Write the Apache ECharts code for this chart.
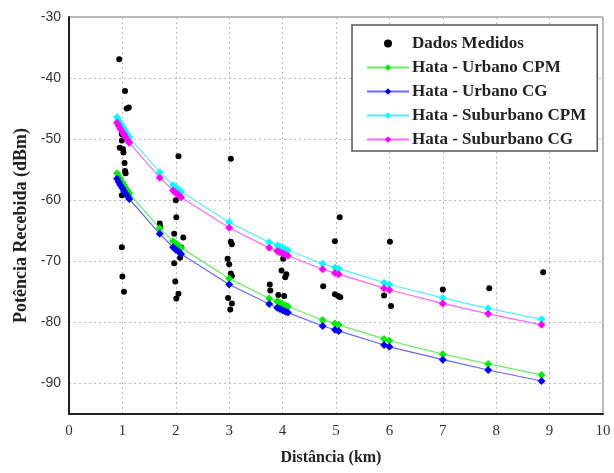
<!DOCTYPE html>
<html><head><meta charset="utf-8">
<script src="https://cdn.jsdelivr.net/npm/echarts@6/dist/echarts.min.js"></script>
<style>html,body{margin:0;padding:0;background:#fff}#c{width:614px;height:473px}</style>
</head><body><div id="c"></div>
<script>
var measuredX = [0.94,1.05,1.08,1.12,0.99,0.99,0.95,1.01,1.02,1.04,1.05,1.06,0.99,1.12,0.99,1.00,1.03,
  1.70,1.71,
  2.05,2.00,2.01,1.97,2.14,2.08,1.97,1.99,2.05,2.01,2.10,
  3.03,3.03,3.05,2.97,3.00,3.03,3.05,2.98,3.05,3.02,
  3.76,3.77,3.92,4.03,4.01,3.98,4.07,4.05,
  5.07,4.98,4.76,4.98,5.04,5.08,
  6.01,5.90,6.03,
  7.00,7.87,8.88];
var measuredY = [-36.9,-42.1,-45.0,-44.8,-49.2,-50.2,-51.4,-51.6,-52.2,-53.9,-55.2,-55.6,-59.2,-59.0,-67.7,-72.5,-75.0,
  -63.8,-64.4,
  -52.8,-60.0,-62.8,-65.5,-66.1,-69.4,-70.3,-73.3,-75.3,-76.1,-67.7,
  -53.2,-66.8,-67.2,-69.6,-70.5,-72.0,-72.4,-76.0,-76.9,-77.9,
  -73.8,-74.8,-75.5,-75.7,-69.6,-71.5,-72.1,-72.6,
  -62.8,-66.7,-74.1,-75.4,-75.7,-75.9,
  -66.8,-75.6,-77.3,
  -74.6,-74.4,-71.8];

var modelX       = [0.90,0.93,0.96,1.00,1.03,1.06,1.10,1.13,1.70,1.95,2.00,2.05,2.10,3.00,3.75,3.90,3.95,4.00,4.05,4.10,4.75,4.98,5.05,5.90,6.00,7.00,7.85,8.85];
var urbanoCPM    = [-55.6,-56.1,-56.5,-57.1,-57.5,-58.0,-58.5,-58.9,-64.6,-66.7,-67.1,-67.4,-67.8,-72.8,-76.1,-76.6,-76.8,-77.0,-77.2,-77.4,-79.6,-80.2,-80.4,-82.7,-83.0,-85.2,-86.8,-88.6];
var urbanoCG     = [-56.5,-57.0,-57.5,-58.0,-58.5,-58.9,-59.4,-59.8,-65.5,-67.7,-68.1,-68.4,-68.8,-73.8,-77.0,-77.6,-77.8,-78.0,-78.2,-78.4,-80.6,-81.2,-81.4,-83.7,-84.0,-86.1,-87.8,-89.6];
var suburbanoCPM = [-46.4,-46.9,-47.4,-47.9,-48.3,-48.8,-49.3,-49.7,-55.4,-57.5,-57.9,-58.2,-58.6,-63.6,-66.9,-67.4,-67.6,-67.8,-68.0,-68.2,-70.4,-71.0,-71.2,-73.5,-73.8,-76.0,-77.7,-79.5];
var suburbanoCG  = [-47.3,-47.8,-48.3,-48.8,-49.2,-49.7,-50.2,-50.6,-56.3,-58.4,-58.8,-59.1,-59.5,-64.5,-67.8,-68.3,-68.5,-68.7,-68.9,-69.1,-71.3,-71.9,-72.1,-74.4,-74.7,-76.9,-78.6,-80.4];

var xTicks = [0,1,2,3,4,5,6,7,8,9,10];
var yTicks = [-90,-80,-70,-60,-50,-40,-30];

function pairs(xs, ys){ return xs.map(function(x,i){ return [x, ys[i]]; }); }

var chart = echarts.init(document.getElementById('c'), null, {renderer:'canvas'});
function lineSeries(name, vals, mc, lc){
  return {name:name, type:'line', data:pairs(modelX, vals), symbol:'diamond', symbolSize:8,
    smooth:false, lineStyle:{color:lc, width:1.2}, itemStyle:{color:mc}, z:3};
}
chart.setOption({
  animation:false,
  grid:{left:69, top:17, right:11, bottom:59, show:true, borderColor:'#777', borderWidth:1},
  legend:{
    orient:'vertical', left:352, top:25,
    padding:[10,11,3,14], itemGap:7, itemWidth:42, itemHeight:8,
    backgroundColor:'#fff', borderColor:'#555', borderWidth:1.5,
    textStyle:{fontFamily:'Liberation Serif', fontWeight:'bold', fontSize:17, color:'#222', padding:[0,0,0,-2]},
    data:['Dados Medidos','Hata - Urbano CPM','Hata - Urbano CG','Hata - Suburbano CPM','Hata - Suburbano CG']
  },
  xAxis:{type:'value', min:0, max:10, interval:1,
    name:'Distância (km)', nameLocation:'middle', nameGap:36,
    nameTextStyle:{fontFamily:'Liberation Serif', fontWeight:'bold', fontSize:16, color:'#222', padding:[0,10,0,0]},
    axisLine:{show:true, onZero:false, lineStyle:{color:'#222', width:2}},
    axisTick:{show:false},
    axisLabel:{fontFamily:'Liberation Serif', fontSize:15, color:'#333', margin:10,
      formatter:function(v){ return xTicks.indexOf(v)>=0 ? String(v) : ''; }},
    splitLine:{show:true, lineStyle:{color:'#bbb', type:[2,3], width:1}}
  },
  yAxis:{type:'value', min:-95, max:-30, interval:5,
    name:'Potência Recebida (dBm)', nameLocation:'middle', nameGap:37, nameRotate:90,
    nameTextStyle:{fontFamily:'Liberation Serif', fontWeight:'bold', fontSize:18, color:'#222', padding:[0,0,0,-20]},
    axisLine:{show:true, onZero:false, lineStyle:{color:'#222', width:2}},
    axisTick:{show:false},
    axisLabel:{fontFamily:'Liberation Sans', fontSize:14, color:'#333', margin:8,
      formatter:function(v){ return yTicks.indexOf(v)>=0 ? String(v) : ''; }},
    splitLine:{show:true, lineStyle:{color:['rgba(0,0,0,0)','#bbb'], type:[2,3], width:1}}
  },
  series:[
    {name:'Dados Medidos', type:'scatter', data:pairs(measuredX, measuredY), symbol:'circle', symbolSize:6,
      itemStyle:{color:'#000', opacity:1}, z:2},
    lineSeries('Hata - Urbano CPM', urbanoCPM, '#00ee00', '#66ee66'),
    lineSeries('Hata - Urbano CG', urbanoCG, '#0000ff', '#6666ff'),
    lineSeries('Hata - Suburbano CPM', suburbanoCPM, '#00ffff', '#55eeff'),
    lineSeries('Hata - Suburbano CG', suburbanoCG, '#ff00ff', '#ff66ff')
  ]
});
</script></body></html>
